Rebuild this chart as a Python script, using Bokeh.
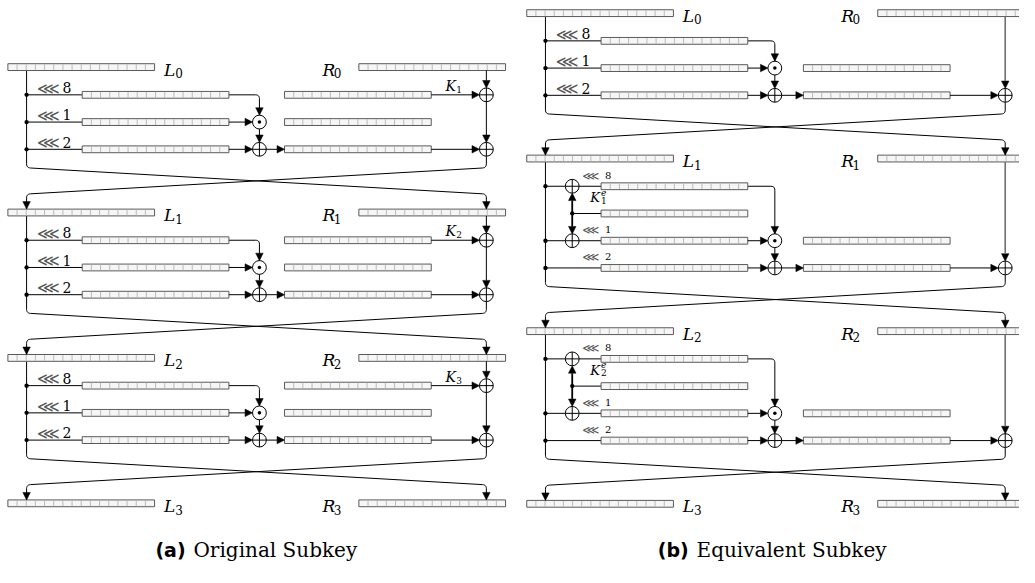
import numpy as np
from bokeh.plotting import figure
from bokeh.models import Range1d, Arrow, NormalHead, ColumnDataSource
from bokeh.core.properties import value
from bokeh.embed import file_html
from bokeh.resources import INLINE

# ---------------- data (structure of the two key schedules) ----------------
shift_amounts = [8, 1, 2]                 # rotation amounts of the three rows
state_indices = ["0", "1", "2", "3"]      # L_i / R_i subscripts
key_labels_a = ["1", "2", "3"]            # K_1..K_3 in (a)
key_labels_b = [None, "1", "2"]           # K^e_1, K^e_2 in (b)
rows_a = [["A", "B", "C"], ["A", "B", "C"], ["A", "B", "C"]]
rows_b = [["A", "B", "C"], ["A", "K", "B", "C"], ["A", "K", "B", "C"]]
caption_tags = ["(a)", "(b)"]
caption_texts = ["Original Subkey", "Equivalent Subkey"]
n_cells = 16

# ---------------- layout constants ----------------
PANEL_X = [0.0, 527.0]
TOP_Y = [68.5, 13.0]
REG_W, REG_H = 149.0, 7.0
X_LREG, X_VLINE, X_MREG = 7.5, 26.5, 83.0
X_CIRC = [263.0, 259.5]
X_RMREG, X_RXOR, X_RREG = 288.5, 493.5, 364.0
X_KXOR = 53.7
ROW_FIRST, ROW_PITCH = 28.5, 28.0
DIAG_GAP, DIAG_H = 19.0, 27.0
RC = 7.0
CAP_SPLIT = [190.0, 701.0]
CAP_Y = 565.0

p = figure(width=1019, height=567, x_range=Range1d(0, 1035), y_range=Range1d(583, 0),
           output_backend="svg", toolbar_location=None, x_axis_type=None, y_axis_type=None,
           min_border=0, background_fill_color="white", border_fill_color="white")
p.outline_line_color = None
p.grid.visible = False

regs = []
polys = []          # (xs, ys, color, width)
arrows = []         # (x0, y0, x1, y1, color, width)
xors = []
odots = []
dots = []
texts = []          # (x, y_center, txt, font, size, style, color)


def rounded(pts, r=4.0, n=7):
    out = [pts[0]]
    for i in range(1, len(pts) - 1):
        p0, p1, p2 = (np.array(pts[i - 1], float), np.array(pts[i], float),
                      np.array(pts[i + 1], float))
        d1 = p1 - p0
        l1 = np.hypot(*d1)
        d1 /= l1
        d2 = p2 - p1
        l2 = np.hypot(*d2)
        d2 /= l2
        rr = min(r, l1 / 2, l2 / 2)
        a = p1 - d1 * rr
        b = p1 + d2 * rr
        for t in np.linspace(0, 1, n):
            q = (1 - t) ** 2 * a + 2 * (1 - t) * t * p1 + t ** 2 * b
            out.append((q[0], q[1]))
    out.append(pts[-1])
    return out


def add_poly(pts, color="black", width=1.0, r=4.0):
    pr = rounded(pts, r)
    polys.append(([q[0] for q in pr], [q[1] for q in pr], color, width))


def head(x, y_from, y_to, color="black", width=1.0):
    arrows.append((x, y_from, x, y_to, color, width))


def reg_label(x, y, letter, idx):
    texts.append((x, y + 2.5, letter, "DejaVu Serif", "17px", "italic", "black"))
    texts.append((x + 11.5, y + 6.5, idx, "DejaVu Serif", "12px", "normal", "black"))


for pi, (rounds, ox) in enumerate(zip([rows_a, rows_b], PANEL_X)):
    y = TOP_Y[pi]
    vx = ox + X_VLINE
    rx = ox + X_RXOR
    cx = ox + X_CIRC[pi]
    kx = ox + X_KXOR
    for k, kinds in enumerate(rounds):
        regs.append((ox + X_LREG, y))
        regs.append((ox + X_RREG, y))
        reg_label(ox + 166, y, "L", state_indices[k])
        reg_label(ox + 327, y, "R", state_indices[k])
        rows_y = {kind: y + ROW_FIRST + ROW_PITCH * i for i, kind in enumerate(kinds)}
        ya, yb, yc = rows_y["A"], rows_y["B"], rows_y["C"]
        keyed = pi == 1 and key_labels_b[k] is not None
        for kind, sh in zip(["A", "B", "C"], shift_amounts):
            yy = rows_y[kind]
            dots.append((vx, yy))
            regs.append((ox + X_MREG, yy))
            if keyed and kind in ("A", "B"):
                xors.append((kx, yy))
                polys.append(([vx, kx - RC], [yy, yy], "black", 1.0))
                polys.append(([kx + RC, ox + X_MREG], [yy, yy], "black", 1.0))
            else:
                polys.append(([vx, ox + X_MREG], [yy, yy], "black", 1.0))
            if keyed:
                texts.append((ox + 64, yy - 11, "\u22d8", "DejaVu Sans", "12px", "normal", "#555555"))
                texts.append((ox + 87, yy - 11.5, str(sh), "DejaVu Serif", "10px", "normal", "black"))
            else:
                texts.append((ox + 37, yy - 7, "\u22d8", "DejaVu Sans", "16px", "normal", "#555555"))
                texts.append((ox + 63, yy - 7.5, str(sh), "DejaVu Serif", "14px", "normal", "black"))
        mend = ox + X_MREG + REG_W
        add_poly([(mend, ya), (cx, ya), (cx, yb - RC)])
        head(cx, yb - RC - 6, yb - RC)
        arrows.append((mend, yb, cx - RC, yb, "black", 1.0))
        odots.append((cx, yb))
        regs.append((ox + X_RMREG, yb))
        arrows.append((cx, yb + RC, cx, yc - RC, "black", 1.0))
        arrows.append((mend, yc, cx - RC, yc, "black", 1.0))
        xors.append((cx, yc))
        arrows.append((cx + RC, yc, ox + X_RMREG, yc, "black", 1.0))
        regs.append((ox + X_RMREG, yc))
        arrows.append((ox + X_RMREG + REG_W, yc, rx - RC, yc, "black", 1.0))
        xors.append((rx, yc))
        if pi == 0:
            regs.append((ox + X_RMREG, ya))
            arrows.append((ox + X_RMREG + REG_W, ya, rx - RC, ya, "black", 1.0))
            xors.append((rx, ya))
            texts.append((ox + 452, ya - 9, "K", "DejaVu Serif", "14px", "italic", "black"))
            texts.append((ox + 463, ya - 5.5, key_labels_a[k], "DejaVu Serif", "9px", "normal", "black"))
            arrows.append((rx, y + REG_H / 2, rx, ya - RC, "black", 1.0))
            arrows.append((rx, ya + RC, rx, yc - RC, "black", 1.0))
        else:
            arrows.append((rx, y + REG_H / 2, rx, yc - RC, "#707070", 1.6))
        if keyed:
            yk = rows_y["K"]
            dots.append((kx, yk))
            regs.append((ox + X_MREG, yk))
            polys.append(([kx, ox + X_MREG], [yk, yk], "black", 1.0))
            arrows.append((kx, yk, kx, ya + RC, "black", 1.8))
            arrows.append((kx, yk, kx, yb - RC, "black", 1.8))
            texts.append((ox + 72, ya + 11.5, "K", "DejaVu Serif", "13px", "italic", "black"))
            texts.append((ox + 83, ya + 6, "e", "DejaVu Serif", "9px", "italic", "black"))
            texts.append((ox + 83, ya + 14.5, key_labels_b[k], "DejaVu Serif", "9px", "normal", "black"))
        last = max(rows_y.values())
        d0 = last + DIAG_GAP
        d1 = d0 + DIAG_H
        ynext = d1 + DIAG_GAP
        tip = ynext - REG_H / 2
        add_poly([(vx, y + REG_H / 2), (vx, d0), (rx, d1), (rx, tip)])
        add_poly([(rx, yc + RC), (rx, d0), (vx, d1), (vx, tip)])
        head(rx, tip - 6, tip)
        head(vx, tip - 6, tip)
        y = ynext
    regs.append((ox + X_LREG, y))
    regs.append((ox + X_RREG, y))
    reg_label(ox + 166, y, "L", state_indices[len(rounds)])
    reg_label(ox + 327, y, "R", state_indices[len(rounds)])

# ---------------- draw ----------------
for xs, ys, c, w in polys:
    p.line(xs, ys, line_color=c, line_width=w)

asrc = ColumnDataSource(dict(x0=[a[0] for a in arrows], y0=[a[1] for a in arrows],
                             x1=[a[2] for a in arrows], y1=[a[3] for a in arrows],
                             c=[a[4] for a in arrows], w=[a[5] for a in arrows]))
p.add_layout(Arrow(end=NormalHead(size=7.5, fill_color="black", line_color="black", line_width=0.5),
                   x_start="x0", y_start="y0", x_end="x1", y_end="y1",
                   line_color="c", line_width="w", source=asrc))

L = [r[0] for r in regs]
Y = [r[1] for r in regs]
p.quad(left=L, right=[l + REG_W for l in L], top=[y - REG_H / 2 for y in Y],
       bottom=[y + REG_H / 2 for y in Y], fill_color="#f6f6f6", line_color="#5a5a5a", line_width=1)
cw = REG_W / n_cells
sx, sy0, sy1 = [], [], []
for l, y in regs:
    for i in range(1, n_cells):
        sx.append(l + i * cw)
        sy0.append(y - REG_H / 2 + 0.5)
        sy1.append(y + REG_H / 2 - 0.5)
p.segment(x0=sx, x1=sx, y0=sy0, y1=sy1, line_color="#b4b4b4", line_width=0.9)

p.circle([c[0] for c in xors], [c[1] for c in xors], radius=RC, fill_color="white",
         line_color="black", line_width=1)
hx0, hx1, hy0, hy1 = [], [], [], []
for x, y in xors:
    hx0 += [x - RC, x]
    hx1 += [x + RC, x]
    hy0 += [y, y - RC]
    hy1 += [y, y + RC]
p.segment(x0=hx0, x1=hx1, y0=hy0, y1=hy1, line_color="black", line_width=1)
p.circle([c[0] for c in odots], [c[1] for c in odots], radius=RC, fill_color="white",
         line_color="black", line_width=1)
p.circle([c[0] for c in odots], [c[1] for c in odots], radius=1.8, fill_color="black", line_color=None)
p.circle([d[0] for d in dots], [d[1] for d in dots], radius=2.2, fill_color="black", line_color=None)

for x, y, t, f, s, st, col in texts:
    p.text(x=[x], y=[y], text=[t], text_font=value(f), text_font_size=s, text_font_style=st,
           text_align="left", text_baseline="middle", text_color=col)

for split, tag, cap in zip(CAP_SPLIT, caption_tags, caption_texts):
    p.text(x=[split - 2], y=[CAP_Y], text=[tag], text_font=value("DejaVu Sans"), text_font_size="19px",
           text_font_style="bold", text_align="right", text_baseline="middle")
    p.text(x=[split + 6], y=[CAP_Y], text=[cap], text_font=value("DejaVu Serif"), text_font_size="20px",
           text_align="left", text_baseline="middle")

open("out.html", "w").write(file_html(p, INLINE))
